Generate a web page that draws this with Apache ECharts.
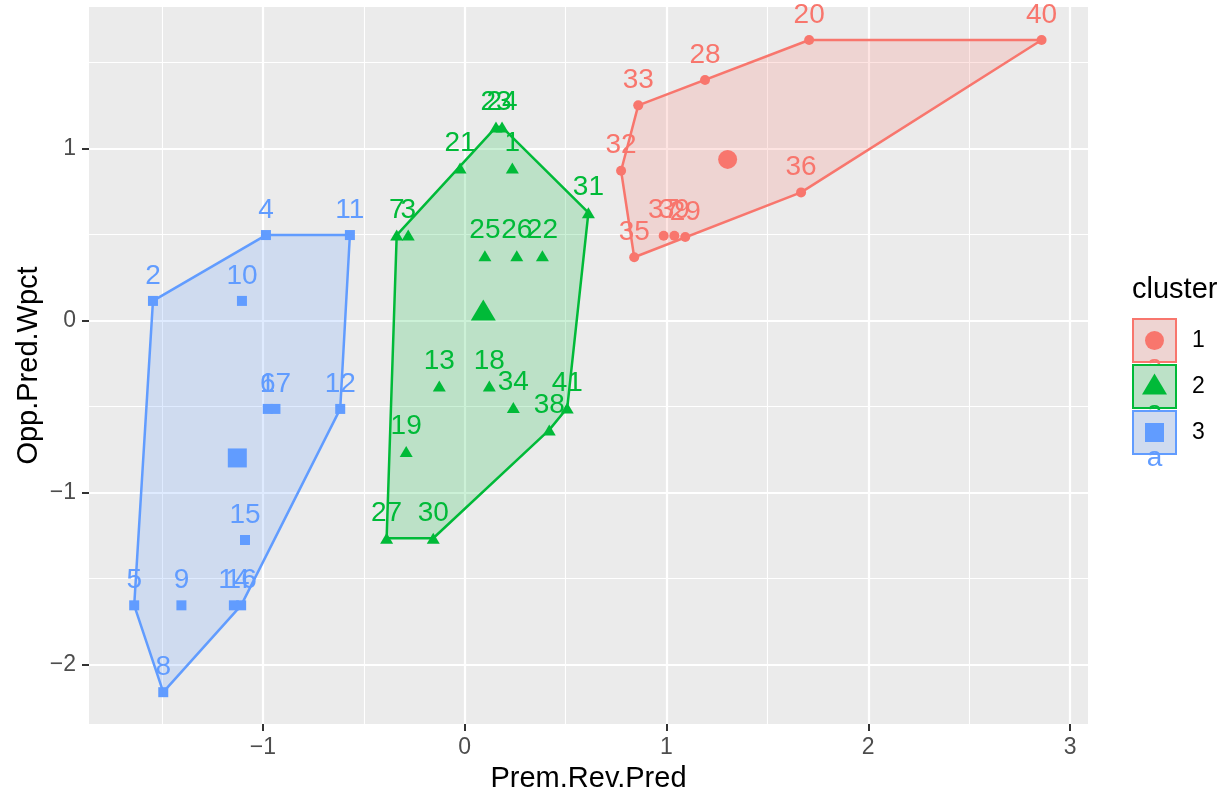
<!DOCTYPE html>
<html><head><meta charset="utf-8">
<script src="https://cdn.jsdelivr.net/npm/echarts@6/dist/echarts.min.js"></script>
<style>html,body{margin:0;padding:0;background:#fff}#c{width:1228px;height:799px}</style>
</head><body><div id="c"></div>
<script>
// ---- data ----
const clusterNames = ['1', '2', '3'];
const clusterColors = ['#F8766D', '#00BA38', '#619CFF'];

const c1Ids = ['20', '40', '28', '33', '32', '36', '37', '39', '29', '35'];
const c1X = [1.707, 2.859, 1.191, 0.860, 0.775, 1.667, 0.986, 1.039, 1.093, 0.840];
const c1Y = [1.632, 1.632, 1.400, 1.252, 0.872, 0.746, 0.494, 0.494, 0.487, 0.369];
const c1Center = [1.303, 0.938];

const c2Ids = ['23', '24', '21', '1', '31', '7', '3', '25', '26', '22', '13', '18', '34', '41', '38', '19', '27', '30'];
const c2X = [0.155, 0.185, -0.023, 0.236, 0.613, -0.337, -0.280, 0.100, 0.258, 0.385, -0.126, 0.122, 0.241, 0.508, 0.419, -0.290, -0.387, -0.156];
const c2Y = [1.126, 1.126, 0.888, 0.888, 0.628, 0.498, 0.498, 0.378, 0.378, 0.378, -0.380, -0.380, -0.505, -0.508, -0.635, -0.761, -1.265, -1.265];
const c2Center = [0.092, 0.062];

const c3Ids = ['2', '10', '4', '11', '6', '17', '12', '15', '5', '9', '14', '16', '8'];
const c3X = [-1.545, -1.104, -0.985, -0.569, -0.976, -0.938, -0.617, -1.089, -1.638, -1.404, -1.144, -1.108, -1.494];
const c3Y = [0.115, 0.115, 0.498, 0.498, -0.513, -0.513, -0.513, -1.275, -1.655, -1.655, -1.655, -1.655, -2.160];
const c3Center = [-1.127, -0.798];

const xTicks = [-1, 0, 1, 2, 3];
const yTicks = [-2, -1, 0, 1];
const xTitle = 'Prem.Rev.Pred';
const yTitle = 'Opp.Pred.Wpct';
const legendTitle = 'cluster';

// ---- build ----
const clusters = [
  {ids: c1Ids, x: c1X, y: c1Y, center: c1Center, symbol: 'circle', size: 10, csize: 19},
  {ids: c2Ids, x: c2X, y: c2Y, center: c2Center, symbol: 'triangle', size: [13, 11], csize: [25, 21]},
  {ids: c3Ids, x: c3X, y: c3Y, center: c3Center, symbol: 'rect', size: 10, csize: 19}
];

function hull(pts) {
  const p = pts.slice().sort((a, b) => a[0] - b[0] || a[1] - b[1]);
  const cross = (o, a, b) => (a[0] - o[0]) * (b[1] - o[1]) - (a[1] - o[1]) * (b[0] - o[0]);
  const lower = [], upper = [];
  for (const q of p) { while (lower.length >= 2 && cross(lower[lower.length - 2], lower[lower.length - 1], q) <= 0) lower.pop(); lower.push(q); }
  for (let i = p.length - 1; i >= 0; i--) { const q = p[i]; while (upper.length >= 2 && cross(upper[upper.length - 2], upper[upper.length - 1], q) <= 0) upper.pop(); upper.push(q); }
  upper.pop(); lower.pop();
  return lower.concat(upper);
}
function rgba(hex, a) {
  const n = parseInt(hex.slice(1), 16);
  return 'rgba(' + (n >> 16) + ',' + ((n >> 8) & 255) + ',' + (n & 255) + ',' + a + ')';
}
const FONT = '"Liberation Sans", Arial, Helvetica, sans-serif';
const series = [];
clusters.forEach((c, k) => {
  const pts = c.x.map((v, i) => [v, c.y[i]]);
  const h = hull(pts);
  series.push({
    type: 'custom', z: 1, silent: true,
    data: [[c.center[0], c.center[1]]],
    renderItem: function (params, api) {
      const poly = h.map(p => api.coord(p));
      return {type: 'polygon', shape: {points: poly},
        style: {fill: rgba(clusterColors[k], 0.2), stroke: clusterColors[k], lineWidth: 2.5, lineJoin: 'round'}};
    }
  });
});
clusters.forEach((c, k) => {
  series.push({
    type: 'scatter', z: 3, name: clusterNames[k],
    symbol: c.symbol, symbolSize: c.size,
    itemStyle: {color: clusterColors[k], opacity: 1},
    data: c.ids.map((id, i) => [c.x[i], c.y[i], id]),
    label: {show: true, position: 'inside', offset: [0, -25], formatter: p => p.data[2],
      color: clusterColors[k], fontSize: 28, fontFamily: FONT},
    emphasis: {disabled: true}
  });
  series.push({
    type: 'scatter', z: 3, symbol: c.symbol, symbolSize: c.csize,
    itemStyle: {color: clusterColors[k], opacity: 1},
    data: [c.center], emphasis: {disabled: true}
  });
});

// legend graphics
const graphics = [];
graphics.push({type: 'text', left: 1132, top: 275, style: {text: legendTitle, font: '29px ' + FONT, fill: '#000'}});
const keyTops = [318, 364, 410];
clusters.forEach((c, k) => {
  const t = keyTops[k], l = 1132, s = 45, cx = l + s / 2, cy = t + s / 2, col = clusterColors[k];
  graphics.push({type: 'rect', shape: {x: l, y: t, width: s, height: s}, style: {fill: '#EBEBEB'}});
  graphics.push({type: 'rect', shape: {x: l + 1, y: t + 1, width: s - 2, height: s - 2}, style: {fill: rgba(col, 0.2), stroke: col, lineWidth: 2}});
  if (k === 0) graphics.push({type: 'circle', shape: {cx: cx, cy: cy, r: 9.5}, style: {fill: col}});
  if (k === 1) graphics.push({type: 'polygon', shape: {points: [[cx, cy - 13], [cx + 12.5, cy + 8], [cx - 12.5, cy + 8]]}, style: {fill: col}});
  if (k === 2) graphics.push({type: 'rect', shape: {x: cx - 9.5, y: cy - 9.5, width: 19, height: 19}, style: {fill: col}});
  graphics.push({type: 'text', x: cx, y: t + s + 3, style: {text: 'a', font: '28px ' + FONT, fill: col, align: 'center', verticalAlign: 'middle'}});
  graphics.push({type: 'text', x: 1192, y: cy, style: {text: clusterNames[k], font: '23px ' + FONT, fill: '#000', verticalAlign: 'middle'}});
});

const minus = v => String(v).replace('-', '\u2212');
const chart = echarts.init(document.getElementById('c'), null, {renderer: 'canvas'});
chart.setOption({
  animation: false,
  backgroundColor: '#fff',
  grid: {left: 89, right: 140, top: 7, bottom: 75, show: true, backgroundColor: '#EBEBEB', borderWidth: 0},
  xAxis: {
    type: 'value', min: -1.862, max: 3.089, splitNumber: 5,
    name: xTitle, nameLocation: 'middle', nameGap: 40,
    nameTextStyle: {fontSize: 29, color: '#000', fontFamily: FONT},
    axisLine: {show: false, onZero: false},
    axisTick: {show: true, length: 7, lineStyle: {color: '#333', width: 2}, customValues: xTicks},
    axisLabel: {color: '#4D4D4D', fontSize: 23, fontFamily: FONT, margin: 12, customValues: xTicks, formatter: minus},
    splitLine: {show: true, lineStyle: {color: '#fff', width: 2.2}},
    minorTick: {show: false, splitNumber: 2},
    minorSplitLine: {show: true, lineStyle: {color: '#fff', width: 1.1}}
  },
  yAxis: {
    type: 'value', min: -2.345, max: 1.824, splitNumber: 5,
    name: yTitle, nameLocation: 'middle', nameGap: 46, nameRotate: 90, nameMoveOverlap: false,
    nameTextStyle: {fontSize: 29, color: '#000', fontFamily: FONT},
    axisLine: {show: false, onZero: false},
    axisTick: {show: true, length: 7, lineStyle: {color: '#333', width: 2}, customValues: yTicks},
    axisLabel: {color: '#4D4D4D', fontSize: 23, fontFamily: FONT, margin: 13, customValues: yTicks, formatter: minus},
    splitLine: {show: true, lineStyle: {color: '#fff', width: 2.2}},
    minorTick: {show: false, splitNumber: 2},
    minorSplitLine: {show: true, lineStyle: {color: '#fff', width: 1.1}}
  },
  series: series,
  graphic: graphics
});
</script></body></html>
